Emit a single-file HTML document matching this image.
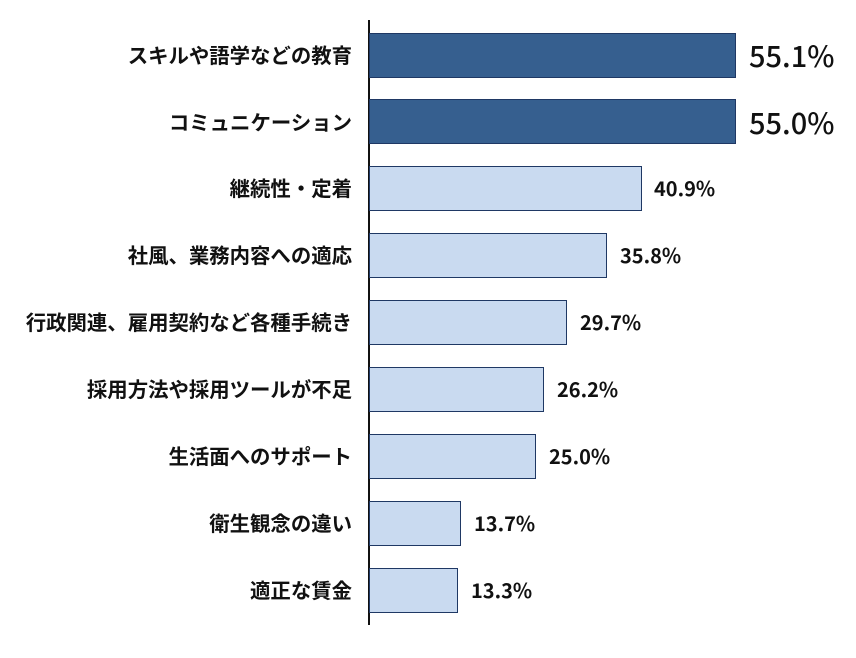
<!DOCTYPE html>
<html><head><meta charset="utf-8"><style>
body{margin:0;width:856px;height:658px;background:#fff;position:relative;overflow:hidden;font-family:"Liberation Sans","Noto Sans CJK JP",sans-serif}
.l{position:absolute;right:504px;font-weight:bold;font-size:20.4px;color:#111;white-space:nowrap;line-height:22px;font-family:"Noto Sans CJK JP",sans-serif}
.b{position:absolute;left:369px;height:45px;border:1px solid #1F3864;box-sizing:border-box;background:#C9DAF0}
.d{background:#365F8F}
.v{position:absolute;font-weight:bold;font-size:20px;color:#111;line-height:20px;font-family:"Noto Sans CJK JP","Liberation Sans",sans-serif}
.big{font-size:29px;font-weight:500;line-height:30px}
</style></head><body>
<div style="position:absolute;left:368px;top:20px;width:1.5px;height:605px;background:#111"></div>
<div class="l" style="top:43px">スキルや語学などの教育</div>
<div class="b d" style="top:33px;width:367px"></div>
<div class="v big" style="left:749px;top:40px">55.1%</div>
<div class="l" style="top:110px">コミュニケーション</div>
<div class="b d" style="top:99px;width:367px"></div>
<div class="v big" style="left:749px;top:107px">55.0%</div>
<div class="l" style="top:176px">継続性・定着</div>
<div class="b" style="top:166px;width:273px"></div>
<div class="v" style="left:654px;top:178px">40.9%</div>
<div class="l" style="top:243px">社風、業務内容への適応</div>
<div class="b" style="top:233px;width:238px"></div>
<div class="v" style="left:620px;top:245px">35.8%</div>
<div class="l" style="top:310px">行政関連、雇用契約など各種手続き</div>
<div class="b" style="top:300px;width:198px"></div>
<div class="v" style="left:580px;top:312px">29.7%</div>
<div class="l" style="top:377px">採用方法や採用ツールが不足</div>
<div class="b" style="top:367px;width:175px"></div>
<div class="v" style="left:557px;top:379px">26.2%</div>
<div class="l" style="top:444px">生活面へのサポート</div>
<div class="b" style="top:434px;width:167px"></div>
<div class="v" style="left:549px;top:446px">25.0%</div>
<div class="l" style="top:511px">衛生観念の違い</div>
<div class="b" style="top:501px;width:92px"></div>
<div class="v" style="left:474px;top:513px">13.7%</div>
<div class="l" style="top:578px">適正な賃金</div>
<div class="b" style="top:568px;width:89px"></div>
<div class="v" style="left:471px;top:580px">13.3%</div>
</body></html>
